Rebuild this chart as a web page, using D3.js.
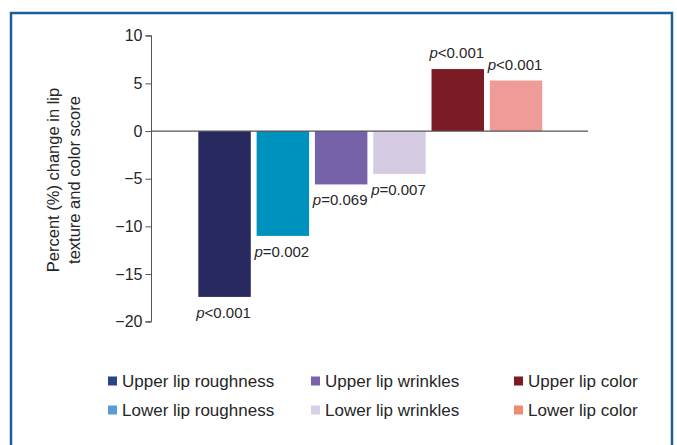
<!DOCTYPE html>
<html>
<head>
<meta charset="utf-8">
<script src="https://cdn.jsdelivr.net/npm/d3@7"></script>
<style>
  html, body { margin: 0; padding: 0; background: #fff; }
  svg { display: block; font-family: "Liberation Sans", Arial, sans-serif; }
</style>
</head>
<body>
<svg id="chart" width="677" height="445"></svg>
<script>
// Measures in bar order
const categories = [
  "Upper lip roughness", "Lower lip roughness",
  "Upper lip wrinkles", "Lower lip wrinkles",
  "Upper lip color", "Lower lip color"
];
const changes = [-17.4, -11.0, -5.6, -4.5, 6.5, 5.3];
const pLabels = ["<0.001", "=0.002", "=0.069", "=0.007", "<0.001", "<0.001"];
const barColors = ["#282a5f", "#0092be", "#7562a9", "#d5cce4", "#7a1b25", "#ef9c98"];

// Legend (three columns, two rows)
const legendItems = [
  "Upper lip roughness", "Lower lip roughness",
  "Upper lip wrinkles", "Lower lip wrinkles",
  "Upper lip color", "Lower lip color"
];
const legendColors = ["#2a4582", "#5b9bd5", "#7b62ad", "#d9d0e7", "#7b1a25", "#f08a70"];

const yTicks = [10, 5, 0, -5, -10, -15, -20];
const yLabelLines = ["Percent (%) change in lip", "texture and color score"];

const svg = d3.select("#chart");
const textColor = "#262626";

// Outer frame
svg.append("rect")
  .attr("x", 11).attr("y", 13)
  .attr("width", 661).attr("height", 450)
  .attr("fill", "none")
  .attr("stroke", "#1b5e98")
  .attr("stroke-width", 2.5);

const y = d3.scaleLinear().domain([-20, 10]).range([321.7, 35.7]);
const x = d3.scaleBand().domain(categories)
  .range([195.4, 545.2]).paddingInner(0.1).paddingOuter(0.05);

const axisX = 151.5;

// Y axis
const yAxis = d3.axisLeft(y).tickValues(yTicks).tickSize(6).tickPadding(3)
  .tickFormat(d => d < 0 ? "\u2212" + Math.abs(d) : String(d));
const gy = svg.append("g").attr("transform", `translate(${axisX},0)`).call(yAxis);
gy.select(".domain").attr("stroke", "#555").attr("d", `M-6,${y(10)}H0V${y(-20)}H-6`);
gy.selectAll(".tick line").attr("stroke", "#555");
gy.selectAll(".tick text").attr("fill", textColor).style("font-size", "16px")
  .style("font-family", "'Liberation Sans', Arial, sans-serif");

// Bars
svg.append("g").selectAll("rect").data(categories).join("rect")
  .attr("x", d => x(d))
  .attr("width", x.bandwidth())
  .attr("y", (d, i) => y(Math.max(0, changes[i])))
  .attr("height", (d, i) => Math.abs(y(changes[i]) - y(0)))
  .attr("fill", (d, i) => barColors[i]);

// Zero line
svg.append("line")
  .attr("x1", axisX).attr("x2", 588)
  .attr("y1", y(0)).attr("y2", y(0))
  .attr("stroke", "#555").attr("stroke-width", 1.2);

// p-value labels
const pl = svg.append("g").selectAll("text").data(categories).join("text")
  .attr("x", d => x(d) + x.bandwidth() / 2 - 1)
  .attr("y", (d, i) => changes[i] < 0 ? y(changes[i]) + 21 : y(changes[i]) - 11)
  .attr("text-anchor", "middle")
  .attr("fill", textColor)
  .style("font-size", "15px");
pl.append("tspan").attr("font-style", "italic").text("p");
pl.append("tspan").text((d, i) => pLabels[i]);

// Y axis title
const yl = svg.append("text")
  .attr("transform", "translate(58.5,180) rotate(-90)")
  .attr("text-anchor", "middle")
  .attr("fill", textColor)
  .style("font-size", "16.5px");
yl.selectAll("tspan").data(yLabelLines).join("tspan")
  .attr("x", 0).attr("dy", (d, i) => i === 0 ? 0 : 21)
  .text(d => d);

// Legend
const colX = [108, 311, 514];
const rowY = [381, 410];
const lg = svg.append("g").selectAll("g").data(legendItems).join("g")
  .attr("transform", (d, i) => `translate(${colX[Math.floor(i / 2)]},${rowY[i % 2]})`);
lg.append("rect").attr("x", 0).attr("y", -4.5).attr("width", 9).attr("height", 9)
  .attr("fill", (d, i) => legendColors[i]);
lg.append("text").attr("x", 14).attr("y", 6)
  .attr("fill", textColor).style("font-size", "17px")
  .text(d => d);
</script>
</body>
</html>
